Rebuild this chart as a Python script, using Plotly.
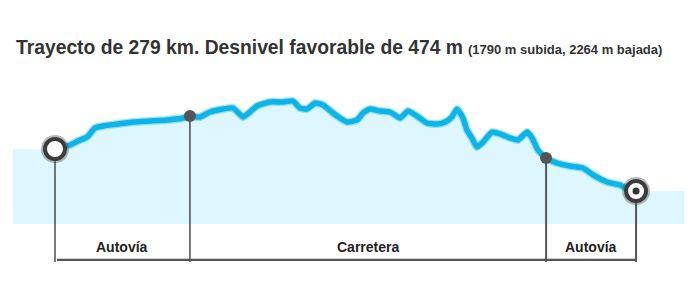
import numpy as np
import plotly.graph_objects as go

# ---- data ----
km = [0, 3.4, 7.2, 11.0, 15.4, 19.2, 23.0, 30.3, 37.5, 45.6, 53.8, 61.5, 64.8,
      69.6, 74.4, 80.7, 85.5, 90.3, 93.6, 97.0, 103.2, 109.5, 114.3, 117.6, 121.0,
      124.9, 128.7, 133.5, 136.9, 140.2, 145.0, 147.9, 151.3, 156.1, 160.9, 165.7,
      169.5, 173.8, 178.6, 183.4, 187.3, 190.6, 193.0, 195.9, 197.8, 200.2, 202.6,
      205.5, 209.8, 213.7, 218.5, 222.3, 226.7, 229.1, 231.9, 235.8, 241.1, 247.3,
      253.5, 258.4, 265.1, 271.3, 276.1, 279]
elev = [846, 869, 892, 937, 982, 1083, 1106, 1129, 1151, 1162, 1174, 1196, 1219,
        1208, 1264, 1298, 1309, 1208, 1264, 1332, 1377, 1377, 1388, 1309, 1298,
        1366, 1343, 1253, 1196, 1151, 1174, 1253, 1298, 1275, 1264, 1196,
        1275, 1219, 1140, 1129, 1151, 1208, 1298, 1196, 1061, 971, 869,
        925, 1038, 1016, 971, 948, 1038, 971, 835, 745, 688, 655,
        632, 553, 474, 440, 384, 372]

segment_bounds = [0, 64.8, 235.8, 279]
segment_labels = ["Autovía", "Carretera", "Autovía"]

title_main = "Trayecto de 279 km. Desnivel favorable de 474 m"
title_sub = "(1790 m subida, 2264 m bajada)"

# ---- layout constants (pixel mapping) ----
W, H = 700, 297
X_RANGE = [-26.41, 309.7]
Y_RANGE = [-824, 2528]
FILL_EXT = [-20.2, 302.1]
BASE_LINE_Y = -406
TICK_BOTTOM = -429
LABEL_Y = -262

fig = go.Figure()

# light blue fill with horizontal extensions
fig.add_trace(go.Scatter(
    x=[FILL_EXT[0]] + km + [FILL_EXT[1]],
    y=[elev[0]] + elev + [elev[-1]],
    mode="lines", line=dict(width=0, color="#def7fe", shape="spline", smoothing=0.5),
    fill="tozeroy", fillcolor="#def7fe", hoverinfo="skip", showlegend=False))

# vertical lines from the profile to the bottom
bound_elev = np.interp(segment_bounds, km, elev)
styles = [("#222222", 1.2), ("#222222", 1.2), ("#555555", 2), ("#555555", 2)]
for b, e, (c, w) in zip(segment_bounds, bound_elev, styles):
    fig.add_trace(go.Scatter(x=[b, b], y=[e, TICK_BOTTOM], mode="lines",
                             line=dict(color=c, width=w), hoverinfo="skip", showlegend=False))

# horizontal base line
fig.add_trace(go.Scatter(x=[segment_bounds[0] + 1, segment_bounds[-1]], y=[BASE_LINE_Y, BASE_LINE_Y],
                         mode="lines", line=dict(color="#555555", width=2.2),
                         hoverinfo="skip", showlegend=False))

# profile line (soft halo + core)
fig.add_trace(go.Scatter(x=km, y=elev, mode="lines",
                         line=dict(color="rgba(0,180,230,0.35)", width=8, shape="spline", smoothing=0.5),
                         hoverinfo="skip", showlegend=False))
fig.add_trace(go.Scatter(x=km, y=elev, mode="lines",
                         line=dict(color="#0db5e6", width=5.5, shape="spline", smoothing=0.5),
                         hoverinfo="skip", showlegend=False))

# intermediate dots
fig.add_trace(go.Scatter(x=segment_bounds[1:3], y=bound_elev[1:3], mode="markers",
                         marker=dict(size=12, color="#555555"), hoverinfo="skip", showlegend=False))

# start / end rings
fig.add_trace(go.Scatter(x=[segment_bounds[0], segment_bounds[-1]], y=[bound_elev[0], bound_elev[-1]],
                         mode="markers",
                         marker=dict(size=28, color="rgba(80,80,80,0.4)", line=dict(width=0)),
                         hoverinfo="skip", showlegend=False))
fig.add_trace(go.Scatter(x=[segment_bounds[0], segment_bounds[-1]], y=[bound_elev[0], bound_elev[-1]],
                         mode="markers",
                         marker=dict(size=20, color="white", line=dict(width=4, color="#3c3c3c")),
                         hoverinfo="skip", showlegend=False))
fig.add_trace(go.Scatter(x=[segment_bounds[-1]], y=[bound_elev[-1]], mode="markers",
                         marker=dict(size=7, color="#333333"), hoverinfo="skip", showlegend=False))

annotations = []
for i, lab in enumerate(segment_labels):
    annotations.append(dict(x=(segment_bounds[i] + segment_bounds[i + 1]) / 2, y=LABEL_Y,
                            xref="x", yref="y", text="<b>" + lab + "</b>", showarrow=False,
                            xanchor="center", yanchor="middle",
                            font=dict(family="Liberation Sans, Arial", size=14, color="#222222")))
annotations.append(dict(x=14 / W, y=1 - 47 / H, xref="paper", yref="paper",
                        text="<b>" + title_main + "</b>", showarrow=False,
                        xanchor="left", yanchor="middle",
                        font=dict(family="Liberation Sans, Arial", size=19.3, color="#333333")))
annotations.append(dict(x=466 / W, y=1 - 49 / H, xref="paper", yref="paper",
                        text="<b>" + title_sub + "</b>", showarrow=False,
                        xanchor="left", yanchor="middle",
                        font=dict(family="Liberation Sans, Arial", size=13, color="#333333")))

fig.update_layout(
    width=W, height=H, margin=dict(l=0, r=0, t=0, b=0),
    paper_bgcolor="white", plot_bgcolor="white",
    xaxis=dict(range=X_RANGE, visible=False, fixedrange=True),
    yaxis=dict(range=Y_RANGE, visible=False, fixedrange=True),
    annotations=annotations, showlegend=False)

fig.write_html("out.html", config={"displayModeBar": False})
